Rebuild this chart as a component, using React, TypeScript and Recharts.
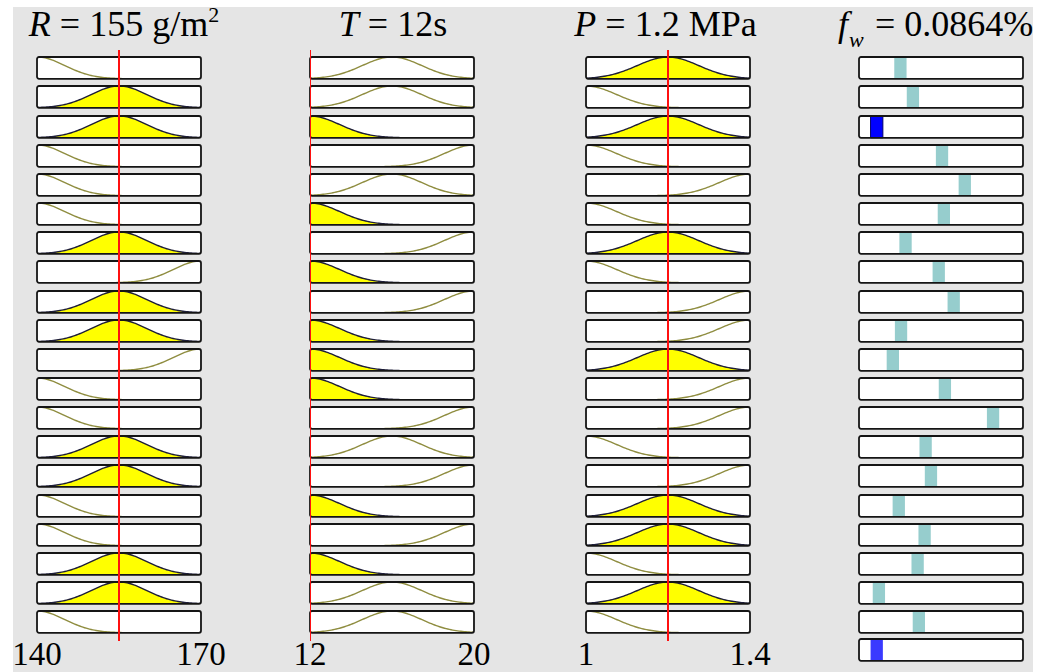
import React from 'react';
import { AreaChart, Area, Line, XAxis, YAxis, ReferenceArea, LineChart } from 'recharts';

// ---- data ----
const inputRanges: [number, number][] = [[140, 170], [12, 20], [1, 1.4]];
const inputValues = [155, 12, 1.2];
const mfCenters = [[140, 155, 170], [12, 16, 20], [1, 1.2, 1.4]];
const mfSigmas = [5.1, 1.45, 0.075];
// antecedent MF index per rule: 0 = low, 1 = mid, 2 = high
const ruleR = [0, 1, 1, 0, 0, 0, 1, 2, 1, 1, 2, 0, 0, 1, 1, 0, 0, 1, 1, 0];
const ruleT = [1, 1, 0, 2, 1, 0, 2, 0, 2, 0, 0, 0, 2, 1, 2, 0, 2, 0, 1, 1];
const ruleP = [1, 0, 1, 0, 2, 0, 1, 0, 2, 2, 1, 2, 2, 0, 2, 1, 1, 0, 1, 0];
const ruleOutputs = [0.202, 0.263, 0.0864, 0.405, 0.516, 0.414, 0.227, 0.389, 0.462, 0.205,
  0.165, 0.419, 0.654, 0.325, 0.351, 0.194, 0.32, 0.286, 0.097, 0.292];
const outputRange: [number, number] = [0, 0.8];
const aggregateOutput = 0.0864;
const tickValues = [[140, 170], [12, 20], [1, 1.4]];

// ---- layout ----
const FONT = "'Liberation Serif', 'Times New Roman', serif";
const COL_LEFT = [37.2, 310.2, 586, 859.2];
const BOX_W = 164;
const BOX_H = 21.8;
const ROW_TOP0 = 57.3;
const PITCH = 29.15;
const AGG_TOP = 639.3;
const PAD = 2;
const LINE_TOP = 50;
const LINE_BOTTOM = 641;
const AXIS_H = 40;
const SIDE = 30;
const BAR_W = 0.06;

const gauss = (x: number, c: number, s: number) => Math.exp(-((x - c) * (x - c)) / (2 * s * s));

const curves = inputRanges.map((r, col) =>
  mfCenters[col].map((c) => {
    const pts: { x: number; y: number }[] = [];
    const n = 100;
    for (let i = 0; i <= n; i++) {
      const x = r[0] + ((r[1] - r[0]) * i) / n;
      pts.push({ x, y: gauss(x, c, mfSigmas[col]) });
    }
    return pts;
  })
);

const rules = [ruleR, ruleT, ruleP];

function MfBox({ col, row, mf }: { col: number; row: number; mf: number }) {
  const range = inputRanges[col];
  const degree = gauss(inputValues[col], mfCenters[col][mf], mfSigmas[col]);
  const filled = degree > 0.5;
  return (
    <div style={{ position: 'absolute', left: COL_LEFT[col] - PAD, top: ROW_TOP0 + row * PITCH - PAD }}>
      <AreaChart width={BOX_W + 2 * PAD} height={BOX_H + 2 * PAD} data={curves[col][mf]}
        margin={{ top: PAD, right: PAD, bottom: PAD, left: PAD }}>
        <XAxis type="number" dataKey="x" domain={range} hide allowDataOverflow />
        <YAxis type="number" domain={[0, 1]} hide allowDataOverflow />
        <ReferenceArea x1={range[0]} x2={range[1]} y1={0} y2={1} fill="#ffffff" fillOpacity={1}
          stroke="none" ifOverflow="visible" zIndex={-200} />
        <Area type="linear" dataKey="y" isAnimationActive={false} dot={false} activeDot={false}
          stroke={filled ? '#1e1e38' : '#8f8d40'} strokeWidth={1.4}
          fill={filled ? '#ffff00' : 'none'} fillOpacity={1} />
        <ReferenceArea x1={range[0]} x2={range[1]} y1={0} y2={1} fill="none"
          stroke="#151515" strokeWidth={1.8} radius={2} ifOverflow="visible" zIndex={1500} />
      </AreaChart>
    </div>
  );
}

function OutBox({ top, value, color, edge }: { top: number; value: number; color: string; edge: string }) {
  return (
    <div style={{ position: 'absolute', left: COL_LEFT[3] - PAD, top: top - PAD }}>
      <LineChart width={BOX_W + 2 * PAD} height={BOX_H + 2 * PAD} data={[{ x: outputRange[0] }, { x: outputRange[1] }]}
        margin={{ top: PAD, right: PAD, bottom: PAD, left: PAD }}>
        <XAxis type="number" dataKey="x" domain={outputRange} hide allowDataOverflow />
        <YAxis type="number" domain={[0, 1]} hide allowDataOverflow />
        <ReferenceArea x1={outputRange[0]} x2={outputRange[1]} y1={0} y2={1} fill="#ffffff" fillOpacity={1}
          stroke="none" ifOverflow="visible" zIndex={-200} />
        <ReferenceArea x1={value - BAR_W / 2} x2={value + BAR_W / 2} y1={0} y2={1} fill={color} fillOpacity={1}
          stroke={edge} strokeWidth={1} ifOverflow="visible" zIndex={100} />
        <ReferenceArea x1={outputRange[0]} x2={outputRange[1]} y1={0} y2={1} fill="none"
          stroke="#151515" strokeWidth={1.8} radius={2} ifOverflow="visible" zIndex={1500} />
      </LineChart>
    </div>
  );
}

function ColumnOverlay({ col }: { col: number }) {
  const range = inputRanges[col];
  const v = inputValues[col];
  const lineData = [{ x: v, y: 0 }, { x: v, y: 1 }];
  return (
    <div style={{ position: 'absolute', left: COL_LEFT[col] - SIDE, top: LINE_TOP, pointerEvents: 'none' }}>
      <LineChart width={BOX_W + 2 * SIDE} height={LINE_BOTTOM - LINE_TOP + AXIS_H} data={lineData}
        margin={{ top: 0, right: SIDE, bottom: 0, left: SIDE }} style={{ overflow: 'visible' }}>
        <XAxis type="number" dataKey="x" domain={range} ticks={tickValues[col]} interval={0} height={AXIS_H}
          tickSize={0} tickMargin={1} axisLine={false} tickLine={false}
          tick={{ fontSize: 33, fill: '#000', fontFamily: FONT }} allowDataOverflow />
        <YAxis type="number" domain={[0, 1]} hide allowDataOverflow />
        <Line type="linear" dataKey="y" stroke="#ff1010" strokeWidth={2} dot={false} activeDot={false}
          isAnimationActive={false} />
      </LineChart>
    </div>
  );
}

export default function App() {
  return (
    <div style={{ position: 'fixed', left: 0, top: 0, width: 1053, height: 672, overflow: 'hidden', background: '#ffffff' }}>
      <div style={{ position: 'absolute', left: 13, top: 7, width: 1020, height: 665, background: '#e5e5e5' }} />
      <svg style={{ position: 'absolute', left: 0, top: 0 }} width={1053} height={60}>
        <text x={124} y={35.5} textAnchor="middle" fontSize={36} fontFamily={FONT} fill="#000">
          <tspan fontStyle="italic">R</tspan> = 155 g/m<tspan fontSize={22} dy={-14}>2</tspan>
        </text>
        <text x={393} y={35.5} textAnchor="middle" fontSize={36} fontFamily={FONT} fill="#000">
          <tspan fontStyle="italic">T</tspan> = 12s
        </text>
        <text x={665.5} y={35.5} textAnchor="middle" fontSize={36} fontFamily={FONT} fill="#000">
          <tspan fontStyle="italic">P</tspan> = 1.2 MPa
        </text>
        <text x={838} y={35.5} fontSize={36} fontFamily={FONT} fill="#000">
          <tspan fontStyle="italic">f</tspan>
          <tspan fontStyle="italic" fontSize={22} x={849} dy={11}>w</tspan>
          <tspan x={866} dy={-11}> = 0.0864%</tspan>
        </text>
      </svg>
      {rules.map((rule, col) => rule.map((mf, row) => <MfBox key={`${col}-${row}`} col={col} row={row} mf={mf} />))}
      {ruleOutputs.map((v, row) => {
        const fired = ruleR[row] === 1 && ruleT[row] === 0 && ruleP[row] === 1;
        return (
          <OutBox key={`o-${row}`} top={ROW_TOP0 + row * PITCH} value={v}
            color={fired ? '#0000ff' : '#96cdcd'} edge={fired ? '#00006a' : 'none'} />
        );
      })}
      <OutBox top={AGG_TOP} value={aggregateOutput} color="#3a3aff" edge="none" />
      {[0, 1, 2].map((col) => <ColumnOverlay key={`ov-${col}`} col={col} />)}
    </div>
  );
}
